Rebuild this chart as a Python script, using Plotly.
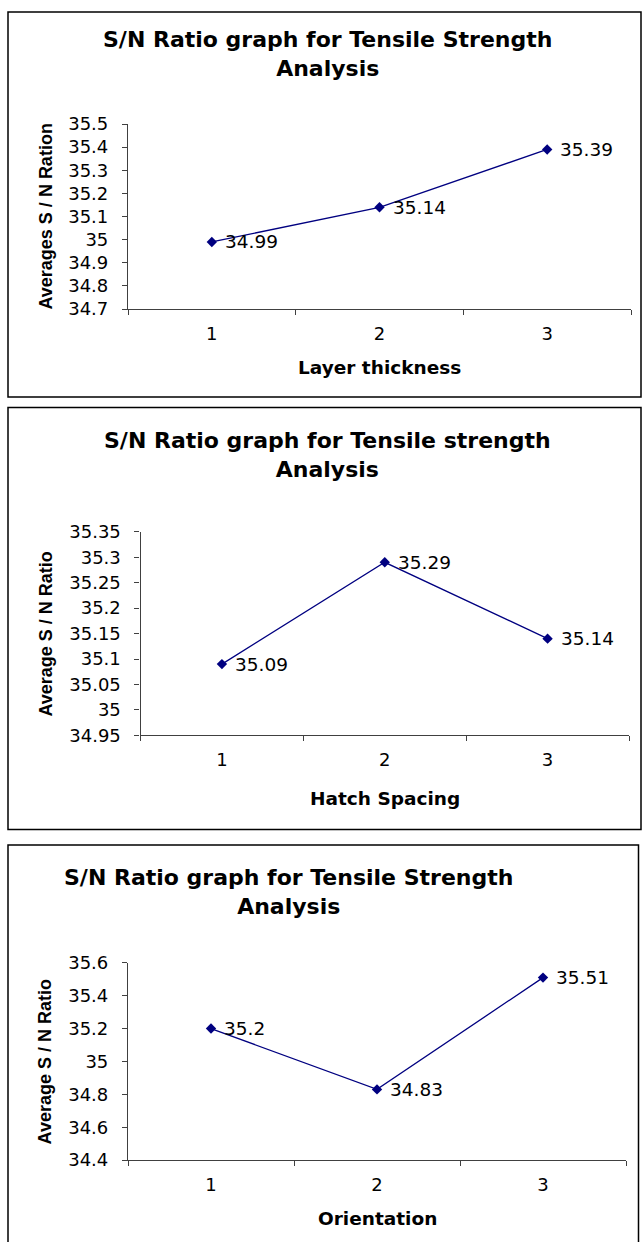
import plotly.graph_objects as go

W, H = 642, 1242

# ---- data ----
categories = ["1", "2", "3"]

p1_title = "S/N Ratio graph for Tensile Strength<br>Analysis"
p1_xtitle = "Layer thickness"
p1_ytitle = "Averages S / N Ration"
p1_values = [34.99, 35.14, 35.39]
p1_yticks = [34.7, 34.8, 34.9, 35.0, 35.1, 35.2, 35.3, 35.4, 35.5]
p1_yticklabels = ["34.7", "34.8", "34.9", "35", "35.1", "35.2", "35.3", "35.4", "35.5"]

p2_title = "S/N Ratio graph for Tensile strength<br>Analysis"
p2_xtitle = "Hatch Spacing"
p2_ytitle = "Average S / N Ratio"
p2_values = [35.09, 35.29, 35.14]
p2_yticks = [34.95, 35.0, 35.05, 35.1, 35.15, 35.2, 35.25, 35.3, 35.35]
p2_yticklabels = ["34.95", "35", "35.05", "35.1", "35.15", "35.2", "35.25", "35.3", "35.35"]

p3_title = "S/N Ratio graph for Tensile Strength<br>Analysis"
p3_xtitle = "Orientation"
p3_ytitle = "Average S / N Ratio"
p3_values = [35.2, 34.83, 35.51]
p3_yticks = [34.4, 34.6, 34.8, 35.0, 35.2, 35.4, 35.6]
p3_yticklabels = ["34.4", "34.6", "34.8", "35", "35.2", "35.4", "35.6"]

# ---- layout (pixel geometry, target positions in the photographed page) ----
V_OFF, V_SCALE = 10.0, 0.983   # observed vertical mapping of the rendered page


def px(x):
    return x / W


def py(y):
    yf = (y - V_OFF) / V_SCALE
    return 1 - yf / H


panels = [
    dict(title=p1_title, xt=p1_xtitle, yt=p1_ytitle, vals=p1_values,
         ticks=p1_yticks, labels=p1_yticklabels,
         box=(8, 11, 641, 396), plot=(128, 123, 631, 308),
         title_xy=(327, 53), xt_y=366, yt_x=46),
    dict(title=p2_title, xt=p2_xtitle, yt=p2_ytitle, vals=p2_values,
         ticks=p2_yticks, labels=p2_yticklabels,
         box=(8, 406.5, 641, 828.3), plot=(140.5, 530.7, 629, 734.3),
         title_xy=(327, 454), xt_y=797, yt_x=46),
    dict(title=p3_title, xt=p3_xtitle, yt=p3_ytitle, vals=p3_values,
         ticks=p3_yticks, labels=p3_yticklabels,
         box=(8, 844, 638.5, 1300), plot=(128, 961.7, 626, 1159),
         title_xy=(288, 890.5), xt_y=1217, yt_x=45),
]

NAVY = "#000080"
AXC = "#404040"
tick_font = dict(family="DejaVu Sans", size=18, color="black")
label_font = dict(family="DejaVu Sans", size=18.5, color="black")
title_font = dict(family="DejaVu Sans", size=22, color="black", weight="bold")
xt_font = dict(family="DejaVu Sans", size=18.5, color="black", weight="bold")
yt_font = dict(family="Liberation Sans", size=18, color="black", weight="bold")

fig = go.Figure()
shapes = []
annotations = []

for i, p in enumerate(panels, start=1):
    sfx = "" if i == 1 else str(i)
    x0, y0, x1, y1 = p["plot"]
    fig.add_trace(go.Scatter(
        x=categories, y=p["vals"],
        xaxis="x" + sfx, yaxis="y" + sfx,
        mode="lines+markers",
        line=dict(color=NAVY, width=1.3),
        marker=dict(symbol="diamond", size=8, color=NAVY),
        showlegend=False, hoverinfo="skip",
    ))
    # data labels, placed through the (category) axes at each point's index
    for j, v in enumerate(p["vals"]):
        annotations.append(dict(
            text=f"{v:g}", xref="x" + sfx, yref="y" + sfx, x=j, y=v,
            xanchor="left", yanchor="middle", xshift=11,
            showarrow=False, font=label_font))
    fig.update_layout(**{
        "xaxis" + sfx: dict(
            domain=[px(x0), px(x1)], anchor="y" + sfx,
            type="category", range=[-0.5, 2.5],
            tickson="boundaries", ticks="outside", ticklen=5,
            tickcolor=AXC, tickwidth=1,
            showline=True, linecolor=AXC, linewidth=1.2,
            showgrid=False, zeroline=False,
            tickfont=tick_font, ticklabelstandoff=8,
        ),
        "yaxis" + sfx: dict(
            domain=[py(y1), py(y0)], anchor="x" + sfx,
            range=[p["ticks"][0], p["ticks"][-1]],
            tickvals=p["ticks"], ticktext=p["labels"],
            ticks="outside", ticklen=5, tickcolor=AXC, tickwidth=1,
            showline=True, linecolor=AXC, linewidth=1.2,
            showgrid=False, zeroline=False,
            tickfont=tick_font, ticklabelstandoff=10,
        ),
    })
    bx0, by0, bx1, by1 = p["box"]
    shapes.append(dict(type="rect", xref="paper", yref="paper",
                       x0=px(bx0), x1=px(bx1), y0=py(by1), y1=py(by0),
                       line=dict(color="black", width=1.5)))
    tx, ty = p["title_xy"]
    annotations.append(dict(text=p["title"], xref="paper", yref="paper",
                            x=px(tx), y=py(ty), xanchor="center", yanchor="middle",
                            showarrow=False, font=title_font))
    annotations.append(dict(text=p["xt"], xref="paper", yref="paper",
                            x=px((x0 + x1) / 2), y=py(p["xt_y"]),
                            xanchor="center", yanchor="middle",
                            showarrow=False, font=xt_font))
    annotations.append(dict(text=p["yt"], xref="paper", yref="paper",
                            x=px(p["yt_x"]), y=py((y0 + y1) / 2),
                            xanchor="center", yanchor="middle", textangle=-90,
                            showarrow=False, font=yt_font))

fig.update_layout(
    width=W, height=H,
    margin=dict(l=0, r=0, t=0, b=0),
    paper_bgcolor="white", plot_bgcolor="white",
    shapes=shapes, annotations=annotations,
)

fig.write_html("out.html")
